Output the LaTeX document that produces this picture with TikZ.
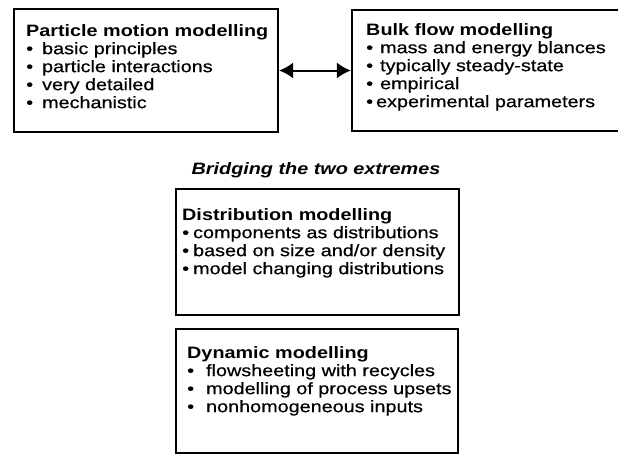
\documentclass[tikz,border=0pt]{standalone}
\usepackage{fontspec}
\setmainfont{Liberation Sans}[FakeStretch=1.2, UprightFeatures={FakeBold=0.6}]
\usetikzlibrary{arrows.meta,positioning}

\newcommand{\bul}[1][4pt]{\textbullet\hspace{#1}}

\begin{document}
\begin{tikzpicture}[
    x=1pt, y=-1pt,
    font=\fontsize{16.5}{18}\selectfont,
    modelbox/.style={draw=black, line width=2.2pt, inner sep=0pt},
    boxtext/.style={anchor=north west, align=left, inner sep=0pt},
    link/.style={{Latex[length=14pt,width=16pt]}-{Latex[length=14pt,width=16pt]}, line width=2pt}
  ]
  \useasboundingbox (0,0) rectangle (618,455);

  % the two extremes
  \node[modelbox, minimum width=264, minimum height=123] (particle) at (146,70.5) {};
  \node[modelbox, minimum width=270, minimum height=121] (bulk) at (487,70.5) {};

  \node[boxtext] (particletxt) at (26,24) {
    \textbf{Particle motion modelling}\\
    \bul[9pt]basic principles\\
    \bul[9pt]particle interactions\\
    \bul[9pt]very detailed\\
    \bul[9pt]mechanistic
  };
  \node[boxtext] (bulktxt) at (366,23) {
    \textbf{Bulk flow modelling}\\
    \bul[7pt]mass and energy blances\\
    \bul[7pt]typically steady-state\\
    \bul[7pt]empirical\\
    \bul[3pt]experimental parameters
  };

  \draw[link] (particle) -- (bulk);

  % in between
  \node[modelbox, minimum width=283, minimum height=126] (distrib) at (317.5,252) {};
  \node[font=\fontsize{16.5}{18}\selectfont\bfseries\itshape, anchor=base] (bridge) at (316,174) {Bridging the two extremes};

  \node[boxtext] (distribtxt) at (182,208) {
    \textbf{Distribution modelling}\\
    \bul[4pt]components as distributions\\
    \bul[4pt]based on size and/or density\\
    \bul[4pt]model changing distributions
  };

  \node[modelbox, minimum width=282, minimum height=124] (dynamic) at (317,391) {};
  \node[boxtext] (dynamictxt) at (187,346) {
    \textbf{Dynamic modelling}\\
    \bul[12pt]flowsheeting with recycles\\
    \bul[12pt]modelling of process upsets\\
    \bul[12pt]nonhomogeneous inputs
  };
\end{tikzpicture}
\end{document}
